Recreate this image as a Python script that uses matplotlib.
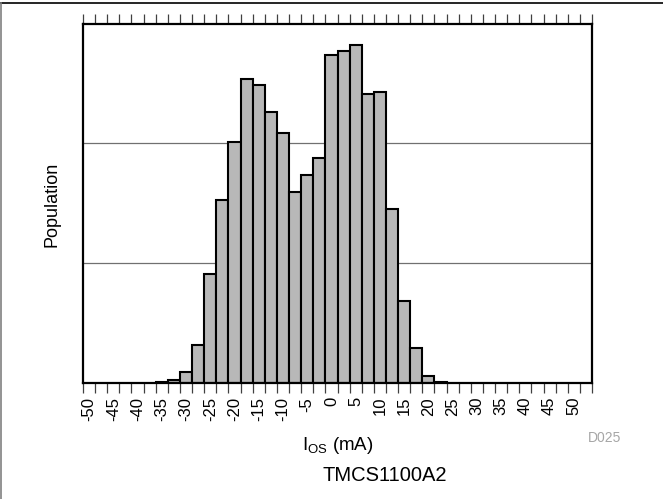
import matplotlib
matplotlib.use("Agg")
import matplotlib.pyplot as plt
from matplotlib.lines import Line2D
import numpy as np

plt.rcParams['font.family'] = ['Liberation Sans', 'DejaVu Sans']
plt.rcParams['mathtext.fontset'] = 'custom'
plt.rcParams['mathtext.rm'] = 'Liberation Sans'

# Data: bin centres (mA) and population (arbitrary units, gridline = 1)
bin_centers = [-35, -32.5, -30, -27.5, -25, -22.5, -20, -17.5, -15, -12.5, -10, -7.5,
               -5, -2.5, 0, 2.5, 5, 7.5, 10, 12.5, 15, 17.5, 20, 22.5]
population = [0.008, 0.025, 0.088, 0.32, 0.906, 1.52, 2.006, 2.533, 2.478, 2.261, 2.08, 1.594,
              1.733, 1.878, 2.733, 2.767, 2.817, 2.406, 2.422, 1.45, 0.686, 0.289, 0.055, 0.012]
bin_width = 2.5
tick_labels = ['-50', '-45', '-40', '-35', '-30', '-25', '-20', '-15', '-10', '-5', '0',
               '5', '10', '15', '20', '25', '30', '35', '40', '45', '50']
label_positions = [float(t) for t in tick_labels]
x_min, x_max = -51.25, 53.75

W, H = 663, 499
fig = plt.figure(figsize=(W / 100, H / 100), dpi=100)
ax = fig.add_axes([83 / W, 1 - 383 / H, 509 / W, 359 / H])

ax.bar(bin_centers, population, width=bin_width, color='#b8b8b8',
       edgecolor='black', linewidth=1.5, zorder=3)

ax.set_xlim(x_min, x_max)
ax.set_ylim(0, 2.99)

for gy in [1, 2]:
    ax.axhline(gy, color='#707070', linewidth=0.9, zorder=1)

ax.set_yticks([])
ax.set_xticks(label_positions)
ax.set_xticklabels(tick_labels, rotation=90, fontsize=12)
edges = np.arange(x_min, x_max + 0.01, bin_width)
ax.set_xticks(edges, minor=True)
ax.tick_params(axis='x', which='major', length=0, pad=10)
ax.tick_params(axis='x', which='minor', length=7.5, width=0.9, color='#404040',
               direction='out', top=True, bottom=True)

for s in ax.spines.values():
    s.set_linewidth(1.6)
    s.set_zorder(4)

fig.text(51.5 / W, 1 - 204.5 / H, 'Population', rotation=90, fontsize=13,
         ha='center', va='center')
fig.text(338 / W, 1 - 450 / H, r'$\mathregular{I_{OS}}$ (mA)', fontsize=13.5,
         ha='center', va='baseline')
fig.text(385 / W, 1 - 481 / H, 'TMCS1100A2', fontsize=14.5,
         ha='center', va='baseline')
fig.text(605 / W, 1 - 437.5 / H, 'D025', fontsize=10, color='#a6a6a6',
         ha='center', va='center')

fig.add_artist(Line2D([0, 1], [1 - 2.5 / H, 1 - 2.5 / H], transform=fig.transFigure,
                      color='black', linewidth=1.2))
fig.add_artist(Line2D([1 / W, 1 / W], [0, 1 - 2.5 / H], transform=fig.transFigure,
                      color='#808080', linewidth=1.2))

fig.savefig('out.png', dpi=100)
